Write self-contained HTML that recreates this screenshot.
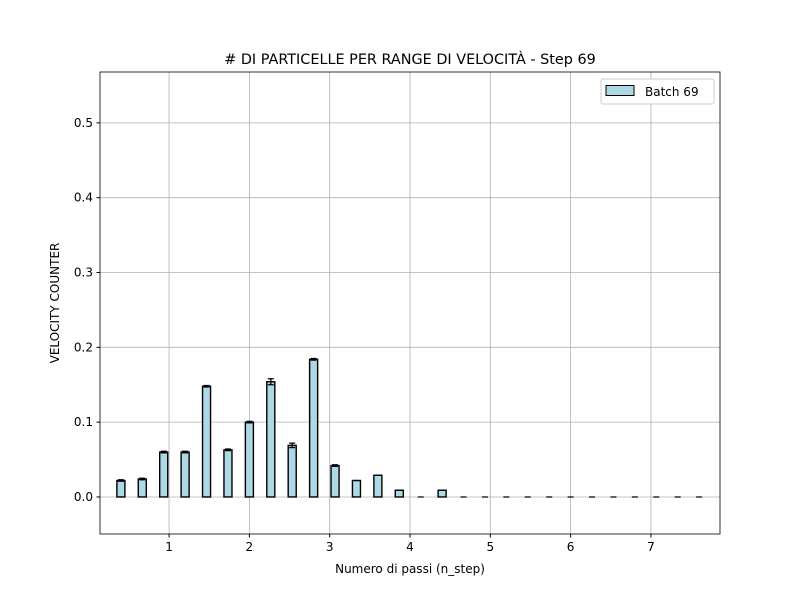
<!DOCTYPE html>
<html><head><meta charset="utf-8"><style>
body{margin:0;background:#fff;}
svg text{font-family:"DejaVu Sans","Liberation Sans",sans-serif;}
</style></head><body>
<svg id="chart" width="800" height="600" xmlns="http://www.w3.org/2000/svg">
<rect width="800" height="600" fill="#fff"/>
<g id="grid"></g><g id="bars"></g><g id="axes"></g>
<text x="410" y="64" font-size="14.4" text-anchor="middle"># DI PARTICELLE PER RANGE DI VELOCITÀ - Step 69</text>
<text x="410" y="573" font-size="12" text-anchor="middle">Numero di passi (n_step)</text>
<text transform="translate(59,303) rotate(-90)" font-size="12" text-anchor="middle">VELOCITY COUNTER</text>
<g>
<rect x="601" y="79" width="113" height="25" fill="#fff" stroke="#ccc" rx="2"/>
<rect x="606" y="85.5" width="28" height="10" fill="#add8e6" stroke="#000"/>
<text x="645" y="96" font-size="12">Batch 69</text>
</g>
</svg>
<script>
const centers=[0.4,0.6667,0.9333,1.2,1.4667,1.7333,2.0,2.2667,2.5333,2.8,3.0667,3.3333,3.6,3.8667,4.1333,4.4,4.6667,4.9333,5.2,5.4667,5.7333,6.0,6.2667,6.5333,6.8,7.0667,7.3333,7.6];
const values=[0.022,0.024,0.060,0.060,0.148,0.063,0.100,0.154,0.069,0.184,0.042,0.022,0.029,0.009,0,0.009,0,0,0,0,0,0,0,0,0,0,0,0];
const errors=[0.001,0.001,0.001,0.001,0.001,0.001,0.001,0.004,0.003,0.001,0.001,0,0,0,0,0,0,0,0,0,0,0,0,0,0,0,0,0];
const xTicks=[1,2,3,4,5,6,7];
const yTicks=[0,0.1,0.2,0.3,0.4,0.5];
const L=100,R=720,T=72,B=534,x0=0.14,x1=7.86,y0=-0.0495,y1=0.568;
const X=v=>L+(v-x0)/(x1-x0)*(R-L), Y=v=>B-(v-y0)/(y1-y0)*(B-T);
const NS="http://www.w3.org/2000/svg";
function mk(p,t,a){const e=document.createElementNS(NS,t);for(const k in a)e.setAttribute(k,a[k]);p.appendChild(e);return e;}
const g=document.getElementById('grid'),b=document.getElementById('bars'),ax=document.getElementById('axes');
xTicks.forEach(t=>{const l=mk(g,'line',{x1:X(t),x2:X(t),y1:T,y2:B,stroke:'#b0b0b0','stroke-width':0.8});

mk(ax,'line',{x1:X(t),x2:X(t),y1:B,y2:B+3.5,stroke:'#000'});
const tx=mk(ax,'text',{x:X(t),y:B+17,'font-size':12,'text-anchor':'middle'});tx.textContent=t;
});
yTicks.forEach(t=>{const l=mk(g,'line',{x1:L,x2:R,y1:Y(t),y2:Y(t),stroke:'#b0b0b0','stroke-width':0.8});

mk(ax,'line',{x1:L-3.5,x2:L,y1:Y(t),y2:Y(t),stroke:'#000'});
const tx=mk(ax,'text',{x:L-7,y:Y(t)+4,'font-size':12,'text-anchor':'end'});tx.textContent=t.toFixed(1);
});
centers.forEach((c,i)=>{const v=values[i],w=X(c+0.05)-X(c-0.05);
const r=mk(b,'rect',{x:X(c-0.05),y:Math.min(Y(v),Y(0)),width:w,height:Math.abs(Y(0)-Y(v)),fill:'#add8e6',stroke:'#000','stroke-width':1.4});

const e=errors[i];const cx=X(c);
const eb=mk(b,'path',{d:`M${cx},${Y(v+e)}V${Y(v-e)}M${cx-3},${Y(v+e)}H${cx+3}M${cx-3},${Y(v-e)}H${cx+3}`,stroke:'#000','stroke-width':1.3,fill:'none'});
});
const f=mk(ax,'rect',{x:L,y:T,width:R-L,height:B-T,fill:'none',stroke:'#000','stroke-width':0.8});

</script>
</body></html>
